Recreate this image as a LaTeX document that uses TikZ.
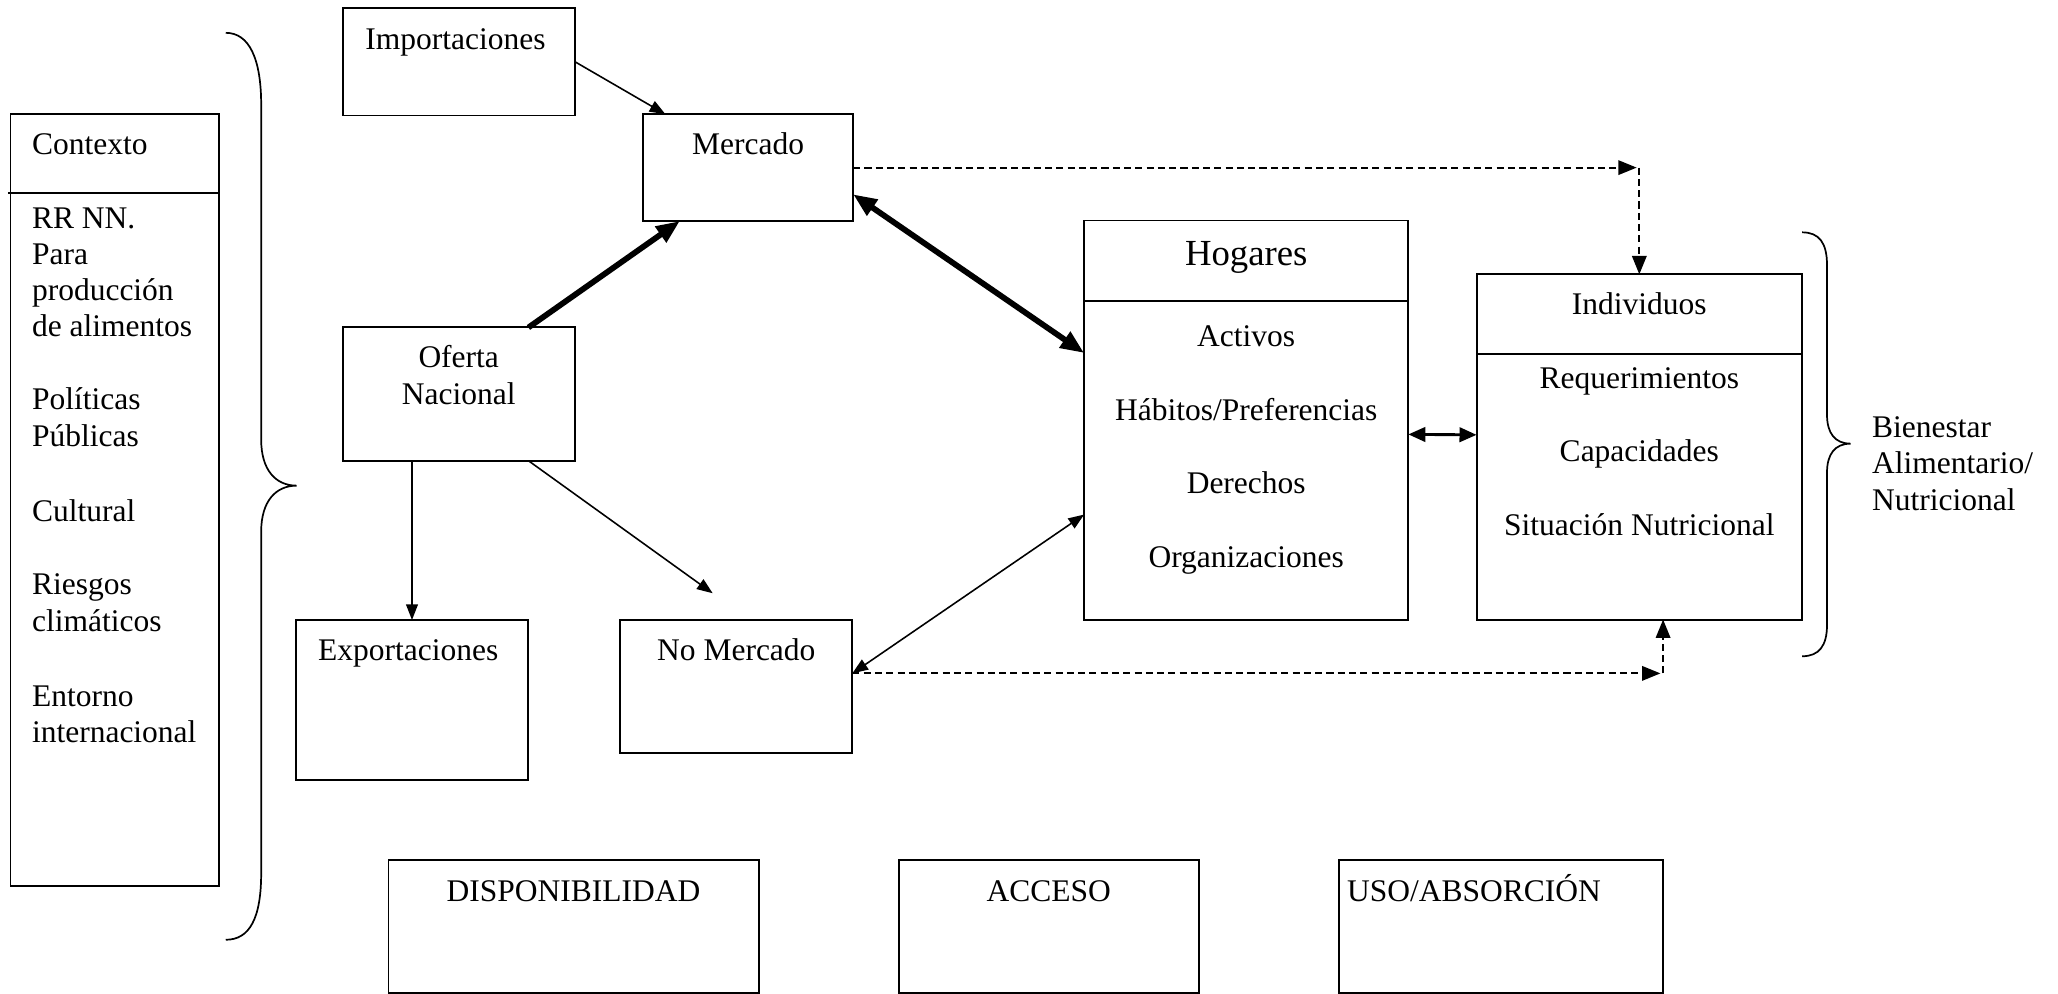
\documentclass[tikz,border=0pt]{standalone}
\usepackage{fontspec}
\setmainfont{Liberation Serif}
\usetikzlibrary{arrows.meta,fit,calc}
\begin{document}
\begin{tikzpicture}[x=0.5pt,y=-0.5pt,
  box/.style={draw,line width=0.75pt,inner sep=0pt,outer sep=0pt},
  txt/.style={font=\fontsize{12}{13.8}\selectfont,inner sep=0pt,anchor=base},
  bigtxt/.style={font=\fontsize{14}{16}\selectfont,inner sep=0pt,anchor=base},
  rule/.style={line width=0.75pt},
  brace/.style={line width=0.65pt},
  thinarr/.style={line width=0.6pt,-{Triangle[length=6pt,width=4.5pt]}},
  thindbl/.style={line width=0.6pt,{Triangle[length=6pt,width=4.5pt]}-{Triangle[length=6pt,width=4.5pt]}},
  thickarr/.style={line width=2.2pt,-{Triangle[length=9pt,width=7pt]}},
  thickdbl/.style={line width=2.2pt,{Triangle[length=9pt,width=7pt]}-{Triangle[length=9pt,width=7pt]}},
  meddbl/.style={line width=1.1pt,{Triangle[length=6.5pt,width=5.5pt]}-{Triangle[length=6.5pt,width=5.5pt]}},
  dasharr/.style={line width=0.75pt,dash pattern=on 2.7pt off 1.6pt,-{Triangle[length=7pt,width=5.5pt]}}
]
\useasboundingbox (0,0) rectangle (1568,757);

% boxes
\node[box,fit={(8,87) (167,675)}] (ctx) {};
\node[box,fit={(261,6) (438,88)}] (imp) {};
\node[box,fit={(490,87) (650,168.4)}] (merc) {};
\node[box,fit={(261,249.5) (438,351)}] (ofe) {};
\node[box,fit={(225.5,472.4) (402.3,594.3)}] (exp) {};
\node[box,fit={(472.6,472.4) (649.4,574)}] (nom) {};
\node[box,fit={(826,168) (1073,472)}] (hog) {};
\node[box,fit={(1125,209) (1373,472)}] (ind) {};
\node[box,fit={(296,655) (578.5,756.4)}] (disp) {};
\node[box,fit={(685,655) (913.5,756.4)}] (acc) {};
\node[box,fit={(1020,655) (1266.7,756.4)}] (uso) {};

% dividers
\draw[rule] ([xshift=-1pt]$(ctx.north west)!0.102!(ctx.south west)$) -- ($(ctx.north east)!0.102!(ctx.south east)$);
\draw[rule] ($(hog.north west)!0.2016!(hog.south west)$) -- ($(hog.north east)!0.2016!(hog.south east)$);
\draw[rule] ($(ind.north west)!0.23!(ind.south west)$) -- ($(ind.north east)!0.23!(ind.south east)$);

% context text
\foreach \yy/\ww [count=\i] in {118/Contexto,174/RR NN.,201.5/Para,229/producción,256.5/de alimentos,312/Políticas,340/Públicas,397/Cultural,453/Riesgos,481/climáticos,538/Entorno,566/internacional}
  \node[txt,anchor=base west] (ctxt\i) at (24,\yy) {\ww};

% other texts
\node[txt] (timp) at (347,38) {Importaciones};
\node[txt] (tmerc) at (570,118) {Mercado};
\node[txt] (tofe1) at (349.5,280) {Oferta};
\node[txt] (tofe2) at (349.5,308) {Nacional};
\node[txt] (texp) at (311,503) {Exportaciones};
\node[txt] (tnom) at (561,503) {No Mercado};
\node[bigtxt] (thog) at (949.5,202) {Hogares};
\node[txt] (thog1) at (949.5,264) {Activos};
\node[txt] (thog2) at (949.5,320) {Hábitos/Preferencias};
\node[txt] (thog3) at (949.5,376) {Derechos};
\node[txt] (thog4) at (949.5,432) {Organizaciones};
\node[txt] (tind) at (1249,239.5) {Individuos};
\node[txt] (tind1) at (1249,296) {Requerimientos};
\node[txt] (tind2) at (1249,351.5) {Capacidades};
\node[txt] (tind3) at (1249,408) {Situación Nutricional};
\node[txt,anchor=base west] (tbien1) at (1426,333) {Bienestar};
\node[txt,anchor=base west] (tbien2) at (1426,361) {Alimentario/};
\node[txt,anchor=base west] (tbien3) at (1426,389) {Nutricional};
\node[txt] (tdisp) at (437,687) {DISPONIBILIDAD};
\node[txt] (tacc) at (799,687) {ACCESO};
\node[txt,anchor=base west] (tuso) at (1026,687) {USO/ABSORCIÓN};

% braces
\draw[brace] (172,25) .. controls (190,25) and (199,45) .. (199,80) -- (199,335)
  .. controls (199,358) and (210,370) .. (226,370)
  .. controls (210,370) and (199,382) .. (199,405) -- (199,665)
  .. controls (199,700) and (190,716) .. (172,716);
\draw[brace] (1373,177) .. controls (1386,177) and (1392,185) .. (1392,202) -- (1392,316)
  .. controls (1392,330) and (1398,338) .. (1410,338)
  .. controls (1398,338) and (1392,346) .. (1392,360) -- (1392,476)
  .. controls (1392,492) and (1386,500) .. (1373,500);

% connectors
\coordinate (nmtip) at (543,452);
\coordinate (c1) at (ind.north |- merc.east);
\coordinate (c2) at ($(ind.south west)!0.573!(ind.south east)$);
\coordinate (nomr) at ($(nom.north east)!0.4!(nom.south east)$);
\coordinate (c3) at (c2 |- nomr);

\draw[thinarr] (imp.east) -- ($(merc.north west)!0.106!(merc.north east)$);
\draw[thickarr] ($(ofe.north west)!0.80!(ofe.north east)$) -- ($(merc.south west)!0.175!(merc.south east)$);
\draw[thickdbl] ($(merc.north east)!0.75!(merc.south east)$) -- ($(hog.north west)!0.332!(hog.south west)$);
\draw[thinarr] (exp.north |- ofe.south) -- (exp.north);
\draw[thinarr] ($(ofe.south west)!0.80!(ofe.south east)$) -- (nmtip);
\draw[thindbl] (nomr) -- ($(hog.north west)!0.737!(hog.south west)$);
\draw[meddbl] ($(hog.north east)!0.536!(hog.south east)$) -- ($(ind.north west)!0.465!(ind.south west)$);
\draw[dasharr] (merc.east) -- ([xshift=-1pt]c1);
\draw[dasharr] (c1) -- (ind.north);
\draw[dasharr] (nomr) -- ([xshift=-1pt]c3);
\draw[dasharr] (c3) -- (c2);
\end{tikzpicture}
\end{document}
